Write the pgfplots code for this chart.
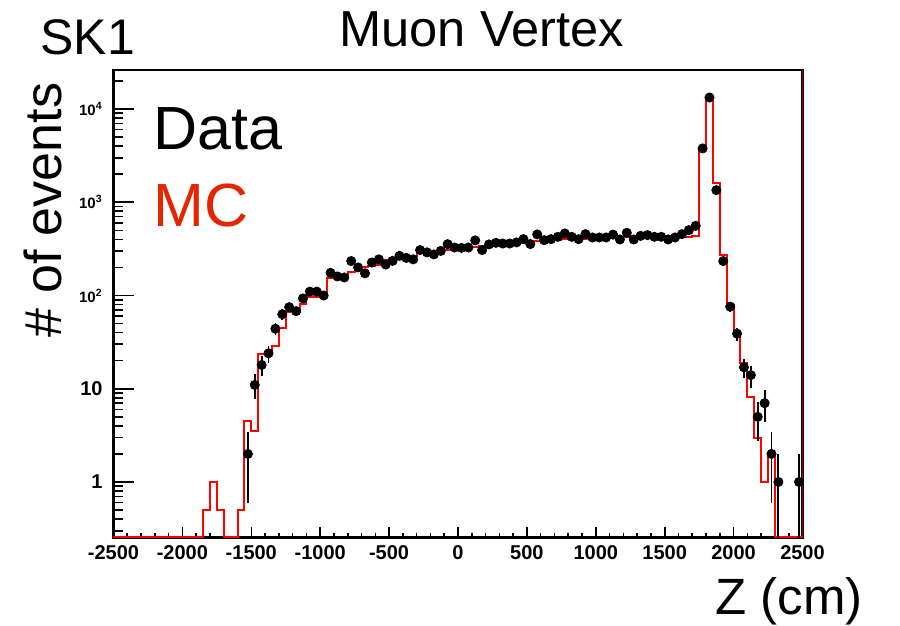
\documentclass[border=0pt]{standalone}
\usepackage{fontspec}
\setmainfont{Liberation Sans}
\usepackage{pgfplots}
\usepackage{pgfplotstable}
\pgfplotsset{compat=1.18}
\definecolor{mctext}{RGB}{228,38,0}

% MC histogram: left bin edge, content (empty bins sit on the floor 0.254)
\pgfplotstableread{
z val
-2500 0.254
-2450 0.254
-2400 0.254
-2350 0.254
-2300 0.254
-2250 0.254
-2200 0.254
-2150 0.254
-2100 0.254
-2050 0.254
-2000 0.254
-1950 0.254
-1900 0.254
-1850 0.5
-1800 1
-1750 0.5
-1700 0.254
-1650 0.254
-1600 0.5
-1550 4.5
-1500 3.5
-1450 23.5
-1400 23.5
-1350 29
-1300 45
-1250 67
-1200 67
-1150 82
-1100 97
-1050 97
-1000 100
-950 153
-900 155
-850 160
-800 178
-750 182
-700 200
-650 205
-600 215
-550 240
-500 245
-450 250
-400 255
-350 265
-300 285
-250 290
-200 295
-150 300
-100 310
-50 315
0 320
50 325
100 335
150 340
200 345
250 350
300 355
350 360
400 365
450 370
500 375
550 380
600 385
650 390
700 395
750 400
800 400
850 405
900 405
950 410
1000 410
1050 415
1100 415
1150 415
1200 420
1250 420
1300 420
1350 420
1400 420
1450 420
1500 420
1550 420
1600 425
1650 425
1700 430
1750 3800
1800 12500
1850 1600
1900 271
1950 79
2000 40
2050 19
2100 8.2
2150 3.0
2200 1.0
2250 2.0
2300 0.254
2350 0.254
2400 0.254
2450 0.254
2500 0.254
}\mchist

% Data: bin centre, events, error
\pgfplotstableread{
z n err
-1525 2 1.41
-1475 11 3.32
-1425 18 4.24
-1375 24 4.9
-1325 44 6.6
-1275 63 7.9
-1225 75 8.7
-1175 68 8.2
-1125 93 9.6
-1075 110 10.5
-1025 110 10.5
-975 100 10
-925 175 13.2
-875 160 12.6
-825 156 12.5
-775 234 15.3
-725 200 14.1
-675 173 13.2
-625 226 15
-575 244 15.6
-525 215 14.7
-475 235 15.3
-425 266 16.3
-375 253 15.9
-325 244 15.6
-275 307 17.5
-225 290 17
-175 276 16.6
-125 301 17.3
-75 355 18.8
-25 327 18.1
25 324 18
75 327 18.1
125 390 19.7
175 307 17.5
225 353 18.8
275 367 19.2
325 361 19
375 361 19
425 371 19.3
475 402 20
525 356 18.9
575 452 21.3
625 392 19.8
675 402 20
725 426 20.6
775 463 21.5
825 426 20.6
875 402 20
925 455 21.3
975 419 20.5
1025 419 20.5
1075 419 20.5
1125 450 21.2
1175 399 20
1225 470 21.7
1275 399 20
1325 436 20.9
1375 444 21.1
1425 426 20.6
1475 426 20.6
1525 399 20
1575 419 20.5
1625 455 21.3
1675 502 22.4
1725 559 23.6
1775 3775 61.4
1825 13280 115
1875 1348 36.7
1925 234 15.3
1975 76 8.7
2025 39 6.2
2075 17 4.1
2125 14 3.7
2175 5 2.24
2225 7 2.65
2275 2 1.41
2325 1 0.99
2475 1 0.99
}\datatab

\begin{document}
\begin{tikzpicture}
\begin{axis}[
    at={(0,0)}, anchor=south west,
    scale only axis, width=344.5pt, height=233.75pt,
    xmin=-2500, xmax=2500,
    ymode=log, ymin=0.254, ymax=26200,
    xtick={-2500,-2000,...,2500},
    xticklabels={-2500,-2000,-1500,-1000,-500,0,500,1000,1500,2000,2500},
    minor x tick num=4,
    ytick={1,10,100,1000,10000},
    yticklabels={{\fontsize{10}{12}\selectfont 1},{\fontsize{10}{12}\selectfont 10},
        10\textsuperscript{2}\hspace{3pt},10\textsuperscript{3}\hspace{3pt},10\textsuperscript{4}\hspace{3pt}},
    minor ytick={0.3,0.4,0.5,0.6,0.7,0.8,0.9,2,3,4,5,6,7,8,9,20,30,40,50,60,70,80,90,200,300,400,500,600,700,800,900,2000,3000,4000,5000,6000,7000,8000,9000,20000},
    tick pos=left, tick align=inside,
    major tick length=10pt, minor tick length=5pt,
    x tick style={/pgfplots/major tick length=5.5pt, /pgfplots/minor tick length=2.5pt},
    every tick/.style={black, line width=0.8pt},
    axis line style={line width=1.2pt},
    xticklabel style={font=\bfseries\fontsize{10}{12}\selectfont, inner sep=0pt, anchor=north, yshift=-3.75pt},
    yticklabel style={font=\bfseries\fontsize{7.5}{9}\selectfont, inner sep=0pt, anchor=east, xshift=-5.25pt},
]
    % MC histogram
    \addplot[red, line width=1pt, const plot] table[x=z, y=val] {\mchist};
    \addplot[red, line width=1pt] coordinates {(2500,0.254) (2500,26200)};
    % data points with sqrt(N) errors
    \addplot[black, only marks, mark=*, mark size=2.3pt,
        error bars/.cd, y dir=both, y explicit, error mark=none,
        error bar style={line width=0.9pt}]
        table[x=z, y=n, y error=err] {\datatab};
\end{axis}
\node[anchor=base west, inner sep=0pt, font=\fontsize{25}{30}\selectfont] at (-36.75pt,241.25pt) {SK1};
\node[anchor=base, inner sep=0pt, font=\fontsize{25.3}{30}\selectfont] at (184pt,245.25pt) {Muon Vertex};
\node[anchor=base west, inner sep=0pt, font=\fontsize{30.5}{36}\selectfont] at (20pt,193.75pt) {Data};
\node[anchor=base west, inner sep=0pt, text=mctext, font=\fontsize{30.5}{36}\selectfont] at (20pt,155.25pt) {MC};
\node[anchor=base, rotate=90, inner sep=0pt, font=\fontsize{26}{31}\selectfont] at (-25.75pt,163.75pt) {\# of events};
\node[anchor=base west, inner sep=0pt, font=\fontsize{25.5}{30}\selectfont] at (300.75pt,-38.75pt) {Z (cm)};
\path (-56.75pt,-44.25pt) rectangle (393.25pt,268.75pt);
\end{tikzpicture}
\end{document}
